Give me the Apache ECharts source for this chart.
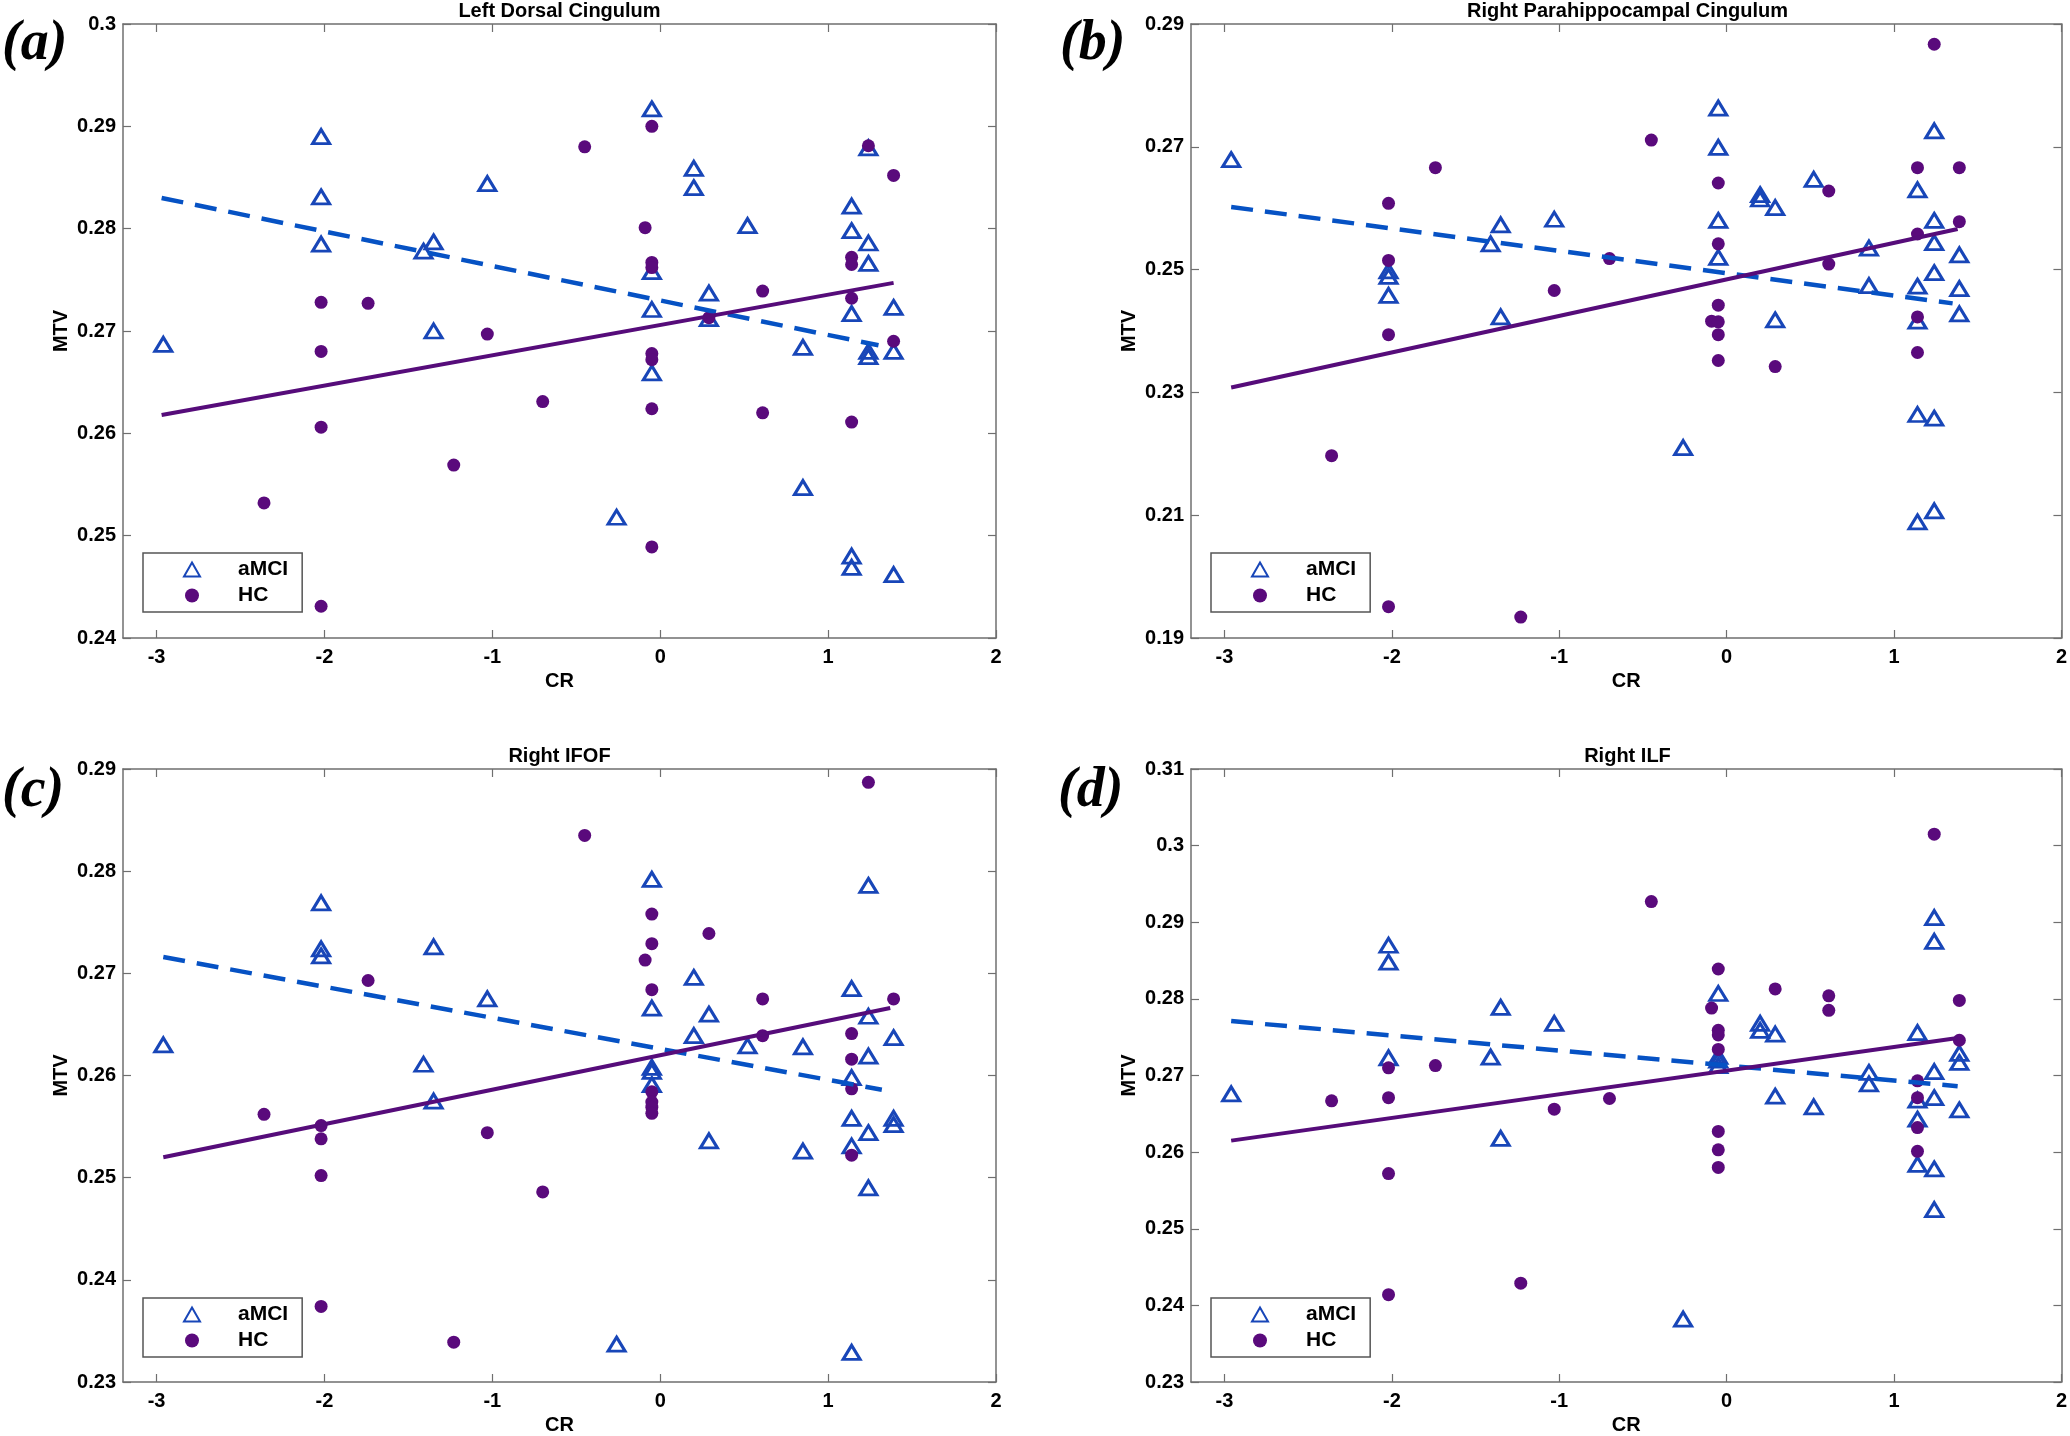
<!DOCTYPE html>
<html><head><meta charset="utf-8">
<script src="https://cdn.jsdelivr.net/npm/echarts@6/dist/echarts.min.js"></script>
<style>html,body{margin:0;padding:0;background:#fff}#c{width:2070px;height:1436px}</style>
</head><body><div id="c"></div>
<script>
// ---------- data ----------
const xTicks = [-3, -2, -1, 0, 1, 2];
const panelTitles = ['Left Dorsal Cingulum', 'Right Parahippocampal Cingulum', 'Right IFOF', 'Right ILF'];
const panelLabels = ['(a)', '(b)', '(c)', '(d)'];
const seriesNames = ['aMCI', 'HC'];
const yTicksA = [0.24, 0.25, 0.26, 0.27, 0.28, 0.29, 0.30];
const yTicksB = [0.19, 0.21, 0.23, 0.25, 0.27, 0.29];
const yTicksC = [0.23, 0.24, 0.25, 0.26, 0.27, 0.28, 0.29];
const yTicksD = [0.23, 0.24, 0.25, 0.26, 0.27, 0.28, 0.29, 0.30, 0.31];

const aAMCI = [[-2.96,0.2687],[-2.02,0.2890],[-2.02,0.2831],[-2.02,0.2785],[-1.41,0.2778],[-1.35,0.2787],[-1.35,0.2700],[-1.03,0.2844],[-0.26,0.2518],[-0.05,0.2917],[-0.05,0.2758],[-0.05,0.2721],[-0.05,0.2659],[0.20,0.2859],[0.20,0.2840],[0.29,0.2737],[0.29,0.2712],[0.52,0.2803],[0.85,0.2684],[0.85,0.2547],[1.14,0.2822],[1.14,0.2798],[1.14,0.2717],[1.14,0.2480],[1.14,0.2469],[1.24,0.2879],[1.24,0.2786],[1.24,0.2766],[1.24,0.2680],[1.24,0.2675],[1.39,0.2723],[1.39,0.2680],[1.39,0.2462]];
const aHC = [[-2.36,0.2532],[-2.02,0.2728],[-2.02,0.2680],[-2.02,0.2606],[-2.02,0.2431],[-1.74,0.2727],[-1.23,0.2569],[-1.03,0.2697],[-0.70,0.2631],[-0.45,0.2880],[-0.09,0.2801],[-0.05,0.2900],[-0.05,0.2767],[-0.05,0.2762],[-0.05,0.2678],[-0.05,0.2672],[-0.05,0.2624],[-0.05,0.2489],[0.29,0.2713],[0.61,0.2739],[0.61,0.2620],[1.14,0.2772],[1.14,0.2765],[1.14,0.2732],[1.14,0.2611],[1.24,0.2881],[1.39,0.2852],[1.39,0.2690]];
const aAMCIfit = [[-2.97,0.2830],[1.30,0.2686]];
const aHCfit = [[-2.97,0.2618],[1.39,0.2747]];

const bAMCI = [[-2.96,0.2679],[-2.02,0.2498],[-2.02,0.2489],[-2.02,0.2458],[-1.41,0.2542],[-1.35,0.2573],[-1.35,0.2423],[-1.03,0.2582],[-0.26,0.2210],[-0.05,0.2763],[-0.05,0.2699],[-0.05,0.2580],[-0.05,0.2520],[0.20,0.2622],[0.20,0.2615],[0.29,0.2601],[0.29,0.2418],[0.52,0.2647],[0.85,0.2535],[0.85,0.2474],[1.14,0.2630],[1.14,0.2473],[1.14,0.2416],[1.14,0.2264],[1.14,0.2089],[1.24,0.2726],[1.24,0.2580],[1.24,0.2544],[1.24,0.2495],[1.24,0.2258],[1.24,0.2107],[1.39,0.2524],[1.39,0.2469],[1.39,0.2428]];
const bHC = [[-2.36,0.2197],[-2.02,0.2608],[-2.02,0.2515],[-2.02,0.2394],[-2.02,0.1951],[-1.74,0.2666],[-1.23,0.1934],[-1.03,0.2466],[-0.70,0.2518],[-0.45,0.2711],[-0.09,0.2416],[-0.05,0.2641],[-0.05,0.2542],[-0.05,0.2442],[-0.05,0.2415],[-0.05,0.2394],[-0.05,0.2352],[0.29,0.2342],[0.61,0.2628],[0.61,0.2509],[1.14,0.2666],[1.14,0.2558],[1.14,0.2423],[1.14,0.2365],[1.24,0.2867],[1.39,0.2666],[1.39,0.2578]];
const bAMCIfit = [[-2.96,0.2602],[1.35,0.2445]];
const bHCfit = [[-2.96,0.2308],[1.38,0.2566]];

const cAMCI = [[-2.96,0.2630],[-2.02,0.2769],[-2.02,0.2724],[-2.02,0.2717],[-1.41,0.2611],[-1.35,0.2726],[-1.35,0.2575],[-1.03,0.2675],[-0.26,0.2337],[-0.05,0.2792],[-0.05,0.2666],[-0.05,0.2608],[-0.05,0.2604],[-0.05,0.2591],[0.20,0.2696],[0.20,0.2639],[0.29,0.2660],[0.29,0.2536],[0.52,0.2629],[0.85,0.2628],[0.85,0.2526],[1.14,0.2685],[1.14,0.2598],[1.14,0.2558],[1.14,0.2531],[1.14,0.2329],[1.24,0.2786],[1.24,0.2658],[1.24,0.2619],[1.24,0.2544],[1.24,0.2490],[1.39,0.2637],[1.39,0.2558],[1.39,0.2552]];
const cHC = [[-2.36,0.2562],[-2.02,0.2551],[-2.02,0.2538],[-2.02,0.2502],[-2.02,0.2374],[-1.74,0.2693],[-1.23,0.2339],[-1.03,0.2544],[-0.70,0.2486],[-0.45,0.2835],[-0.09,0.2713],[-0.05,0.2758],[-0.05,0.2729],[-0.05,0.2684],[-0.05,0.2584],[-0.05,0.2574],[-0.05,0.2569],[-0.05,0.2563],[0.29,0.2739],[0.61,0.2675],[0.61,0.2639],[1.14,0.2641],[1.14,0.2616],[1.14,0.2587],[1.14,0.2522],[1.24,0.2887],[1.39,0.2675]];
const cAMCIfit = [[-2.96,0.2716],[1.32,0.2586]];
const cHCfit = [[-2.96,0.2520],[1.37,0.2666]];

const dAMCI = [[-2.96,0.2676],[-2.02,0.2870],[-2.02,0.2848],[-2.02,0.2723],[-1.41,0.2724],[-1.35,0.2789],[-1.35,0.2618],[-1.03,0.2768],[-0.26,0.2382],[-0.05,0.2807],[-0.05,0.2725],[-0.05,0.2720],[-0.05,0.2713],[0.20,0.2768],[0.20,0.2759],[0.29,0.2754],[0.29,0.2673],[0.52,0.2659],[0.85,0.2704],[0.85,0.2689],[1.14,0.2756],[1.14,0.2668],[1.14,0.2643],[1.14,0.2584],[1.24,0.2906],[1.24,0.2875],[1.24,0.2705],[1.24,0.2671],[1.24,0.2578],[1.24,0.2525],[1.39,0.2729],[1.39,0.2717],[1.39,0.2655]];
const dHC = [[-2.36,0.2667],[-2.02,0.2710],[-2.02,0.2671],[-2.02,0.2572],[-2.02,0.2414],[-1.74,0.2713],[-1.23,0.2429],[-1.03,0.2656],[-0.70,0.2670],[-0.45,0.2927],[-0.09,0.2788],[-0.05,0.2839],[-0.05,0.2759],[-0.05,0.2753],[-0.05,0.2734],[-0.05,0.2627],[-0.05,0.2603],[-0.05,0.2580],[0.29,0.2813],[0.61,0.2804],[0.61,0.2785],[1.14,0.2693],[1.14,0.2671],[1.14,0.2632],[1.14,0.2601],[1.24,0.3015],[1.39,0.2798],[1.39,0.2746]];
const dAMCIfit = [[-2.96,0.2771],[1.38,0.2686]];
const dHCfit = [[-2.96,0.2615],[1.38,0.2749]];

// ---------- build ----------
const panels = [
  {title: panelTitles[0], label: panelLabels[0], yTicks: yTicksA, amci: aAMCI, hc: aHC, amciFit: aAMCIfit, hcFit: aHCfit},
  {title: panelTitles[1], label: panelLabels[1], yTicks: yTicksB, amci: bAMCI, hc: bHC, amciFit: bAMCIfit, hcFit: bHCfit},
  {title: panelTitles[2], label: panelLabels[2], yTicks: yTicksC, amci: cAMCI, hc: cHC, amciFit: cAMCIfit, hcFit: cHCfit},
  {title: panelTitles[3], label: panelLabels[3], yTicks: yTicksD, amci: dAMCI, hc: dHC, amciFit: dAMCIfit, hcFit: dHCfit}
];
const layout = [
  {left: 123, top: 24, labelX: 2, labelY: 45, titleY: 11},
  {left: 1191, top: 24, labelX: 1060, labelY: 45, titleY: 11},
  {left: 123, top: 769, labelX: 2, labelY: 792, titleY: 756},
  {left: 1191, top: 769, labelX: 1058, labelY: 792, titleY: 756}
];
const W = 873, H = 614;
const FONT = '"Liberation Sans", Arial, Helvetica, sans-serif';
const AX = '#6f6f6f';
const BLUE_MK = '#1846b8', BLUE_LN = '#0652c4', PURPLE = '#5a0a7c', PURPLE_LN = '#560c7a';

const grid = [], xAxis = [], yAxis = [], series = [], legend = [], graphic = [];
const labelStyle = {color: '#000', fontSize: 20, fontWeight: 'bold', fontFamily: FONT};
const fmt = v => String(+(+v).toFixed(2));

panels.forEach((p, i) => {
  const L = layout[i];
  grid.push({left: L.left, top: L.top, width: W, height: H, containLabel: false});
  const ymin = p.yTicks[0], ymax = p.yTicks[p.yTicks.length - 1];
  const tickStyle = {color: AX, width: 1.2};
  const lineStyle = {color: AX, width: 1.5};
  xAxis.push({
    gridIndex: i, type: 'value', min: -3.2, max: 2, position: 'bottom',
    axisLine: {show: true, onZero: false, lineStyle},
    axisTick: {show: true, inside: true, length: 8, customValues: xTicks, lineStyle: tickStyle},
    axisLabel: Object.assign({customValues: xTicks, margin: 9, formatter: fmt}, labelStyle),
    splitLine: {show: false},
    name: 'CR', nameLocation: 'middle', nameGap: 33,
    nameTextStyle: {color: '#000', fontSize: 20, fontWeight: 'bold', fontFamily: FONT}
  });
  xAxis.push({
    gridIndex: i, type: 'value', min: -3.2, max: 2, position: 'top',
    axisLine: {show: true, onZero: false, lineStyle},
    axisTick: {show: true, inside: true, length: 8, customValues: xTicks, lineStyle: tickStyle},
    axisLabel: {show: false, customValues: xTicks},
    splitLine: {show: false}
  });
  yAxis.push({
    gridIndex: i, type: 'value', min: ymin, max: ymax, position: 'left',
    axisLine: {show: true, onZero: false, lineStyle},
    axisTick: {show: true, inside: true, length: 8, customValues: p.yTicks, lineStyle: tickStyle},
    axisLabel: Object.assign({customValues: p.yTicks, margin: 7, formatter: fmt}, labelStyle),
    splitLine: {show: false},
    name: 'MTV', nameLocation: 'middle', nameGap: 52, nameRotate: 90,
    nameTextStyle: {color: '#000', fontSize: 20, fontWeight: 'bold', fontFamily: FONT}
  });
  yAxis.push({
    gridIndex: i, type: 'value', min: ymin, max: ymax, position: 'right',
    axisLine: {show: true, onZero: false, lineStyle},
    axisTick: {show: true, inside: true, length: 8, customValues: p.yTicks, lineStyle: tickStyle},
    axisLabel: {show: false, customValues: p.yTicks},
    splitLine: {show: false}
  });
  const xi = 2 * i, yi = 2 * i;
  series.push({
    type: 'scatter', name: seriesNames[0], xAxisIndex: xi, yAxisIndex: yi, data: p.amci,
    symbol: 'triangle', symbolSize: [17, 14], z: 3,
    itemStyle: {color: 'rgba(255,255,255,0)', borderColor: BLUE_MK, borderWidth: 3, opacity: 1}
  });
  series.push({
    type: 'scatter', name: seriesNames[1], xAxisIndex: xi, yAxisIndex: yi, data: p.hc,
    symbol: 'circle', symbolSize: 13, z: 4,
    itemStyle: {color: PURPLE, opacity: 1}
  });
  series.push({
    type: 'line', name: 'aMCI fit', xAxisIndex: xi, yAxisIndex: yi, data: p.amciFit,
    showSymbol: false, symbol: 'none', silent: true, z: 5,
    lineStyle: {color: BLUE_LN, width: 4.5, type: [22, 12], opacity: 1}
  });
  series.push({
    type: 'line', name: 'HC fit', xAxisIndex: xi, yAxisIndex: yi, data: p.hcFit,
    showSymbol: false, symbol: 'none', silent: true, z: 5,
    lineStyle: {color: PURPLE_LN, width: 4, opacity: 1}
  });
  legend.push({
    left: L.left + 20, top: L.top + 529, orient: 'vertical', data: seriesNames,
    itemWidth: 16, itemHeight: 14, itemGap: 5, padding: [6, 14, 6, 40],
    backgroundColor: '#fff', borderColor: '#555', borderWidth: 1.5, borderRadius: 0,
    selectedMode: false, z: 10,
    textStyle: {fontSize: 21, fontWeight: 'bold', fontFamily: FONT, color: '#000', padding: [0, 0, 0, 33]}
  });
  graphic.push({
    type: 'text', x: L.left + W / 2, y: L.titleY, z: 20,
    style: {text: p.title, font: 'bold 20px ' + FONT, fill: '#000', align: 'center', verticalAlign: 'middle', textAlign: 'center', textVerticalAlign: 'middle'}
  });
  graphic.push({
    type: 'text', x: L.labelX, y: L.labelY, z: 20,
    style: {text: p.label, font: 'italic bold 56px "Liberation Serif", "Times New Roman", serif', fill: '#000', align: 'left', verticalAlign: 'middle', textAlign: 'left', textVerticalAlign: 'middle'}
  });
});

const chart = echarts.init(document.getElementById('c'), null, {renderer: 'canvas'});
chart.setOption({
  backgroundColor: '#fff',
  animation: false,
  grid, xAxis, yAxis, series, legend, graphic
});
</script>
</body></html>
